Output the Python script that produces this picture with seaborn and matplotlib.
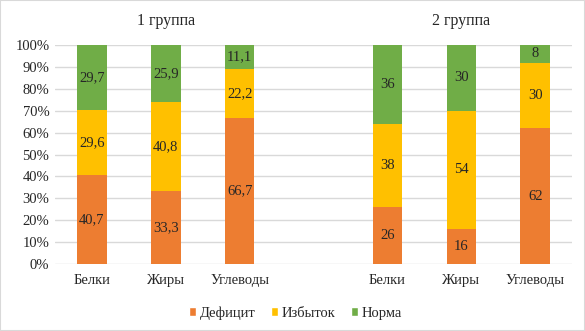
import matplotlib
matplotlib.use("Agg")
import matplotlib.pyplot as plt
from matplotlib.patches import Patch
import numpy as np
import pandas as pd
import seaborn as sns

sns.set_style("white")
plt.rcParams['font.family'] = ['Liberation Serif', 'DejaVu Serif']

nutrients = ["Белки", "Жиры", "Углеводы"]
groups = ["1 группа", "2 группа"]
deficit_1 = [40.7, 33.3, 66.7]
excess_1 = [29.6, 40.8, 22.2]
norm_1 = [29.7, 25.9, 11.1]
deficit_2 = [26, 16, 62]
excess_2 = [38, 54, 30]
norm_2 = [36, 30, 8]
series = ["Дефицит", "Избыток", "Норма"]
colors = ["#ED7D31", "#FFC000", "#70AD47"]

def fmt(v):
    s = ("%g" % v)
    return s.replace(".", ",")

# slots: 3 bars, empty gap, 3 bars
slots = ["g1_" + n for n in nutrients] + ["gap"] + ["g2_" + n for n in nutrients]
rows = []
for g, (d, e, n) in enumerate([(deficit_1, excess_1, norm_1), (deficit_2, excess_2, norm_2)]):
    for i, nut in enumerate(nutrients):
        rows.append({"slot": "g%d_%s" % (g + 1, nut), "Дефицит": d[i], "Избыток": e[i], "Норма": n[i]})
df = pd.DataFrame(rows)
df["c1"] = df["Дефицит"]
df["c2"] = df["Дефицит"] + df["Избыток"]
df["c3"] = df["c2"] + df["Норма"]

fig = plt.figure(figsize=(5.85, 3.31), dpi=100)
ax = fig.add_axes([0.094, 0.2024, 0.884, 0.6616])

for col, color in zip(["c3", "c2", "c1"], colors[::-1]):
    sns.barplot(data=df, x="slot", y=col, order=slots, color=color, width=0.4,
                saturation=1, ax=ax, zorder=3, linewidth=0)

# data labels
for _, r in df.iterrows():
    x = slots.index(r["slot"])
    bottoms = [0, r["c1"], r["c2"]]
    for s, b in zip(series, bottoms):
        ax.text(x, b + r[s] / 2, fmt(r[s]), ha="center", va="center", fontsize=10.5, zorder=4)

ax.set_ylim(0, 100)
ax.set_xlim(-0.5, len(slots) - 0.5)
ax.set_yticks(np.arange(0, 101, 10))
ax.set_yticklabels(["%d%%" % v for v in range(0, 101, 10)], fontsize=10.5)
ax.set_xticks(range(len(slots)))
ax.set_xticklabels([s.split("_")[1] if "_" in s else "" for s in slots], fontsize=10.5)
ax.tick_params(axis="y", length=0, pad=4)
ax.tick_params(axis="x", length=0, pad=7)
ax.set_xlabel("")
ax.set_ylabel("")
ax.grid(axis="y", color="#D9D9D9", linewidth=1, zorder=0)
ax.set_axisbelow(True)
for sp in ax.spines.values():
    sp.set_visible(False)

# group titles
ax.text(1, 1.11, groups[0], transform=ax.get_xaxis_transform(), ha="center", va="center", fontsize=11.5)
ax.text(5, 1.11, groups[1], transform=ax.get_xaxis_transform(), ha="center", va="center", fontsize=11.5)

handles = [Patch(facecolor=c, label=s) for s, c in zip(series, colors)]
fig.legend(handles=handles, loc="center", bbox_to_anchor=(0.505, 0.055), ncol=3, frameon=False,
           fontsize=10.5, handlelength=0.5, handleheight=0.5, handletextpad=0.2, columnspacing=1.1)

fig.patches.append(plt.Rectangle((0, 0), 1, 1, transform=fig.transFigure, fill=False,
                                 edgecolor="#D9D9D9", linewidth=1.5))
fig.savefig("out.png", dpi=100)
